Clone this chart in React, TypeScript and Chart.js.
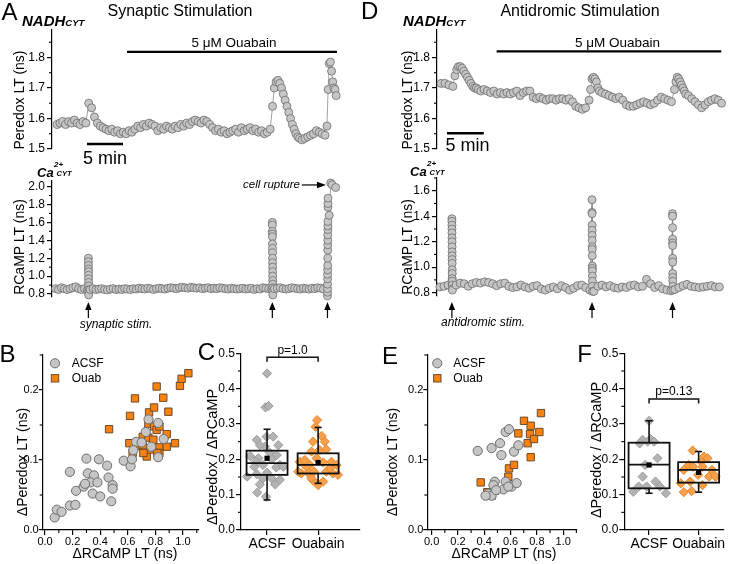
import React, { useEffect, useRef } from "react";
import { Chart, registerables } from "chart.js";

Chart.register(...registerables);

const W = 729;
const H = 564;
const FONT = '"Liberation Sans", Arial, Helvetica, sans-serif';

// ================= Panel A : synaptic stimulation =================
// Peredox lifetime (ns) — sampled segments, timing = [start (min), sample step (min)]
const synPeredoxBase1 = [
  1.58, 1.585, 1.59, 1.58, 1.59, 1.585, 1.595, 1.585, 1.58, 1.59,
  1.585, 1.65, 1.635, 1.605, 1.585, 1.575, 1.57, 1.565, 1.56, 1.565,
  1.555, 1.56, 1.55, 1.555, 1.55, 1.56, 1.555, 1.565, 1.575, 1.57,
  1.58, 1.575, 1.585, 1.58, 1.575, 1.56, 1.57, 1.565, 1.575, 1.57,
  1.565, 1.575, 1.57, 1.58, 1.575, 1.585, 1.58, 1.59, 1.595, 1.59,
  1.585, 1.595, 1.59, 1.58, 1.57, 1.56, 1.565, 1.555, 1.56, 1.55,
  1.555, 1.56, 1.565, 1.555, 1.57, 1.56, 1.565, 1.57, 1.56, 1.565,
  1.555, 1.56, 1.55, 1.555, 1.565,
];
const synPeredoxBurst2 = [1.64, 1.7, 1.72, 1.725, 1.715, 1.7, 1.68, 1.66, 1.64, 1.62, 1.6, 1.58, 1.565, 1.55, 1.54, 1.535];
const synPeredoxBase3 = [1.53, 1.535, 1.54, 1.545, 1.55, 1.56, 1.555, 1.55, 1.545];
const synPeredoxBurst3 = [1.575, 1.695, 1.78, 1.785, 1.755, 1.72, 1.7, 1.695, 1.675];
const synPeredoxTiming: [number, number][] = [[0.7, 0.4], [30.63, 0.25], [34.72, 0.4], [38.19, 0.16]];

// RCaMP lifetime (ns)
const synRcampBase = [
  0.86, 0.85, 0.87, 0.86, 0.85, 0.86, 0.87, 0.88, 0.86, 0.85,
  0.86, 0.84, 0.85, 0.86, 0.85, 0.855, 0.86, 0.85, 0.845, 0.855,
  0.86, 0.85, 0.855, 0.85, 0.86, 0.855, 0.85, 0.86, 0.855, 0.865,
  0.86, 0.855, 0.865, 0.86, 0.85, 0.86, 0.865, 0.86, 0.855, 0.865,
  0.87, 0.865, 0.86, 0.87, 0.875, 0.87, 0.865, 0.875, 0.87, 0.865,
  0.87, 0.86, 0.865, 0.87, 0.86, 0.865, 0.86, 0.87, 0.865, 0.86,
  0.855, 0.865, 0.86, 0.855, 0.86, 0.865, 0.855, 0.86, 0.865, 0.85,
  0.86, 0.855, 0.87, 0.865, 0.86, 0.855, 0.86, 0.865, 0.87, 0.86,
  0.855, 0.86, 0.87, 0.865, 0.86, 0.855, 0.865, 0.86, 0.855, 0.865,
  0.86, 0.87, 0.865, 0.855,
];
const synRcampTiming: [number, number] = [0.5, 0.4];
const synStimTimes = [5.05, 30.6, 38.26];
const synRcampSpike1 = [1.2, 1.16, 1.12, 1.08, 1.05, 1.01, 0.97, 0.93, 0.89, 0.85, 0.82, 0.79];
const synRcampSpike2 = [1.6, 1.57, 1.5, 1.47, 1.44, 1.36, 1.31, 1.26, 1.2, 1.15, 1.1, 1.05, 1.0, 0.95, 0.91, 0.87, 0.83, 0.79];
const synRcampSpike3 = [0.78, 0.82, 0.86, 0.91, 0.97, 1.02, 1.07, 1.12, 1.2, 1.29, 1.35, 1.4, 1.46, 1.52, 1.56, 1.61, 1.77, 1.81, 1.87];
const synRuptureT = [38.5, 38.72, 38.9, 39.4];
const synRuptureV = [1.68, 2.04, 2.02, 1.99];

// ================= Panel D : antidromic stimulation =================
const antiPeredoxSeg1 = [1.715, 1.715, 1.71, 1.705];
const antiPeredoxBurst1 = [1.74, 1.76, 1.77, 1.77, 1.765, 1.755, 1.745, 1.735, 1.725, 1.715, 1.705, 1.7, 1.7, 1.695];
const antiPeredoxSeg2 = [
  1.69, 1.695, 1.69, 1.685, 1.69, 1.68, 1.685, 1.68, 1.685, 1.68,
  1.685, 1.69, 1.675, 1.685, 1.69, 1.69, 1.67, 1.665, 1.67, 1.665,
  1.66, 1.665, 1.665, 1.66, 1.665, 1.665, 1.66, 1.665, 1.655, 1.64,
  1.635, 1.63, 1.635,
];
const antiPeredoxBurst2 = [1.66, 1.695, 1.73, 1.735, 1.73, 1.72, 1.7, 1.69];
const antiPeredoxSeg3 = [
  1.685, 1.68, 1.675, 1.67, 1.665, 1.67, 1.66, 1.645, 1.64, 1.64,
  1.645, 1.65, 1.655, 1.65, 1.645, 1.65, 1.66, 1.67, 1.665, 1.66, 1.655,
];
const antiPeredoxBurst3 = [1.695, 1.72, 1.735, 1.73, 1.72, 1.71, 1.7, 1.69, 1.68];
const antiPeredoxSeg4 = [1.675, 1.665, 1.655, 1.645, 1.635, 1.645, 1.655, 1.66, 1.665, 1.66, 1.65];
const antiPeredoxTiming: [number, number][] = [
  [0.54, 0.54], [2.43, 0.243], [5.94, 0.445], [20.65, 0.2], [22.4, 0.472], [32.25, 0.19], [34.14, 0.45],
];

const antiRcampBase = [
  0.845, 0.85, 0.86, 0.87, 0.86, 0.875, 0.87, 0.85, 0.87, 0.88,
  0.875, 0.885, 0.88, 0.87, 0.855, 0.87, 0.875, 0.85, 0.84, 0.845,
  0.86, 0.845, 0.835, 0.85, 0.855, 0.83, 0.82, 0.835, 0.845, 0.83,
  0.855, 0.84, 0.82, 0.835, 0.855, 0.86, 0.84, 0.82, 0.81, 0.85,
  0.86, 0.845, 0.855, 0.84, 0.835, 0.845, 0.84, 0.855, 0.86, 0.845,
  0.85, 0.905, 0.87, 0.84, 0.855, 0.83, 0.82, 0.815, 0.825, 0.84,
  0.855, 0.865, 0.85, 0.845, 0.84, 0.845, 0.85, 0.855, 0.845, 0.845,
];
const antiRcampTiming: [number, number] = [0.4, 0.55];
const antiStimTimes = [2.02, 21.05, 31.98];
const antiRcampSpike1 = [1.38, 1.36, 1.33, 1.3, 1.27, 1.23, 1.2, 1.16, 1.12, 1.09, 1.06, 1.03, 0.98, 0.95, 0.91, 0.89, 0.86, 0.83, 0.82];
const antiRcampSpike2 = [1.53, 1.43, 1.42, 1.33, 1.29, 1.25, 1.21, 1.16, 1.14, 1.09, 1.01, 0.99, 0.97, 0.93, 0.89, 0.85, 0.81];
const antiRcampSpike3 = [1.42, 1.4, 1.31, 1.22, 1.19, 1.17, 1.07, 1.04, 0.95, 0.92, 0.89, 0.85, 0.82];

// ================= Panel B : scatter (synaptic) =================
const bAcsfX = [0.07, 0.085, 0.12, 0.18, 0.22, 0.18, 0.225, 0.28, 0.3, 0.39, 0.31, 0.355, 0.33, 0.29, 0.38, 0.345, 0.4, 0.45, 0.46, 0.49, 0.48, 0.49, 0.57, 0.62, 0.63, 0.66, 0.75, 0.82, 0.82, 0.77, 0.7, 0.64, 0.73, 0.86];
const bAcsfY = [0.018, 0.029, 0.026, 0.035, 0.036, 0.083, 0.056, 0.062, 0.102, 0.101, 0.081, 0.078, 0.068, 0.066, 0.068, 0.052, 0.048, 0.092, 0.075, 0.064, 0.041, 0.059, 0.099, 0.091, 0.101, 0.126, 0.158, 0.153, 0.104, 0.119, 0.125, 0.114, 0.14, 0.13];
const bOuabX = [0.464, 0.616, 0.652, 0.611, 0.635, 0.664, 0.708, 0.708, 0.737, 0.749, 0.754, 0.749, 0.766, 0.79, 0.79, 0.785, 0.809, 0.809, 0.829, 0.829, 0.857, 0.882, 0.894, 0.882, 0.829, 0.942, 0.978, 0.99, 1.039, 0.713, 0.814];
const bOuabY = [0.144, 0.163, 0.188, 0.124, 0.11, 0.12, 0.133, 0.121, 0.105, 0.152, 0.168, 0.132, 0.115, 0.175, 0.148, 0.129, 0.143, 0.205, 0.118, 0.148, 0.189, 0.137, 0.169, 0.119, 0.11, 0.124, 0.206, 0.216, 0.224, 0.11, 0.11];

// ================= Panel E : scatter (antidromic) =================
const eAcsfX = [0.35, 0.456, 0.52, 0.53, 0.563, 0.588, 0.626, 0.659, 0.48, 0.563, 0.608, 0.646, 0.545, 0.47, 0.43, 0.456, 0.49, 0.583, 0.41];
const eAcsfY = [0.113, 0.117, 0.124, 0.107, 0.14, 0.144, 0.112, 0.121, 0.069, 0.069, 0.062, 0.067, 0.058, 0.064, 0.052, 0.049, 0.057, 0.062, 0.049];
const eOuabX = [0.373, 0.423, 0.456, 0.48, 0.583, 0.588, 0.626, 0.659, 0.702, 0.73, 0.748, 0.753, 0.778, 0.753, 0.819, 0.831];
const eOuabY = [0.068, 0.054, 0.049, 0.056, 0.076, 0.088, 0.093, 0.138, 0.156, 0.124, 0.137, 0.149, 0.13, 0.104, 0.14, 0.167];

// ================= Panel C : ratio box plot (synaptic) =================
const boxCategories = ["ACSF", "Ouabain"];
const cAcsfX = [1.0, 0.97, 1.03, 0.8, 0.99, 1.12, 0.96, 0.86, 1.22, 0.67, 0.83, 0.92, 1.09, 1.19, 1.25, 0.75, 0.61, 0.8, 1.0, 1.18, 1.32, 0.92, 1.09, 0.86, 1.16, 0.81, 0.98, 1.25, 0.78, 1.05];
const cAcsfY = [0.443, 0.347, 0.351, 0.255, 0.264, 0.264, 0.236, 0.24, 0.24, 0.209, 0.203, 0.184, 0.2, 0.212, 0.184, 0.179, 0.151, 0.158, 0.162, 0.177, 0.179, 0.146, 0.146, 0.129, 0.129, 0.106, 0.094, 0.142, 0.194, 0.219];
const cOuabX = [1.98, 1.95, 2.07, 1.9, 2.13, 1.87, 2.03, 2.16, 1.64, 1.74, 1.84, 1.97, 2.1, 2.26, 2.36, 1.67, 1.8, 1.92, 2.16, 2.29, 2.39, 1.9, 2.1, 2.0, 1.77, 2.23, 1.61, 1.87];
const cOuabY = [0.311, 0.292, 0.266, 0.25, 0.25, 0.222, 0.226, 0.228, 0.193, 0.198, 0.184, 0.203, 0.191, 0.193, 0.184, 0.16, 0.162, 0.165, 0.165, 0.16, 0.156, 0.14, 0.137, 0.127, 0.179, 0.175, 0.165, 0.146];
const cBoxLow = [0.156, 0.16];
const cMedian = [0.189, 0.184];
const cBoxHigh = [0.2245, 0.217];
const cWhiskerLow = [0.085, 0.132];
const cWhiskerHigh = [0.285, 0.29];
const cMean = [0.203, 0.191];
const cPValue = "p=1.0";

// ================= Panel F : ratio box plot (antidromic) =================
const fAcsfX = [1.0, 0.87, 1.03, 1.1, 0.81, 0.97, 1.17, 0.92, 0.87, 1.13, 0.95, 0.79, 0.68, 1.22, 1.34];
const fAcsfY = [0.309, 0.255, 0.257, 0.25, 0.245, 0.25, 0.203, 0.184, 0.151, 0.137, 0.123, 0.123, 0.108, 0.123, 0.104];
const fOuabX = [1.88, 2.11, 2.18, 2.05, 1.8, 1.7, 1.89, 2.08, 2.27, 1.99, 2.21, 2.34, 1.64, 1.83, 2.08, 1.86, 1.7];
const fOuabY = [0.225, 0.208, 0.203, 0.193, 0.184, 0.17, 0.179, 0.179, 0.17, 0.156, 0.151, 0.151, 0.132, 0.137, 0.127, 0.11, 0.107];
const fBoxLow = [0.118, 0.134];
const fMedian = [0.185, 0.17];
const fBoxHigh = [0.247, 0.192];
const fWhiskerLow = [0.104, 0.107];
const fWhiskerHigh = [0.309, 0.222];
const fMean = [0.184, 0.163];
const fPValue = "p=0.13";

// ================= helpers =================
type Pt = { x: number; y: number };
type Area = { l: number; r: number; t: number; b: number };
const Y_W = 40;
const X_H = 24;

function segments(timing: [number, number][], vals: number[][]): Pt[] {
  const out: Pt[] = [];
  vals.forEach((arr, k) => {
    const [t0, dt] = timing[k];
    arr.forEach((v, i) => out.push({ x: t0 + i * dt, y: v }));
  });
  return out;
}
function column(t: number, vals: number[]): Pt[] {
  return vals.map((v, i) => ({ x: t + i * 0.004, y: v }));
}
function zip(xs: number[], ys: number[]): Pt[] {
  return xs.map((x, i) => ({ x, y: ys[i] }));
}
function byTime(pts: Pt[]): Pt[] {
  return pts.slice().sort((a, b) => a.x - b.x);
}

function layoutFor(area: Area, hasX: boolean) {
  return {
    padding: {
      left: area.l - Y_W,
      right: W - area.r,
      top: area.t,
      bottom: H - area.b - (hasX ? X_H : 0),
    },
  };
}

function axis(pos: "left" | "bottom", min: number, max: number, step: number, dec: number, size: number, tickLen: number, pad: number, show = true) {
  const isY = pos === "left";
  return {
    type: "linear",
    position: pos,
    min,
    max,
    display: show,
    afterFit: (s: any) => {
      if (isY) s.width = Y_W;
      else s.height = X_H;
    },
    border: { display: true, color: "#000", width: 1.2 },
    grid: { display: true, drawOnChartArea: false, drawTicks: true, tickLength: tickLen, color: "#000", lineWidth: 1.2 },
    ticks: {
      stepSize: step,
      includeBounds: false,
      autoSkip: false,
      maxRotation: 0,
      padding: pad,
      color: "#000",
      font: { family: FONT, size },
      callback: (v: any) => Number(v).toFixed(dec),
    },
  };
}

function minorTicks(spec: { x?: [number, number]; y?: [number, number] }) {
  return {
    id: "minorTicks",
    afterDraw(chart: any) {
      const ctx = chart.ctx;
      const a = chart.chartArea;
      ctx.save();
      ctx.strokeStyle = "#000";
      ctx.lineWidth = 1.1;
      const run = (key: "x" | "y") => {
        const sp = spec[key];
        if (!sp) return;
        const [minor, major] = sp;
        const s = chart.scales[key];
        const k0 = Math.ceil(s.min / minor - 1e-6);
        const k1 = Math.floor(s.max / minor + 1e-6);
        for (let k = k0; k <= k1; k++) {
          const v = k * minor;
          const r = v / major;
          if (Math.abs(r - Math.round(r)) < 1e-6) continue;
          const p = s.getPixelForValue(v);
          ctx.beginPath();
          if (key === "y") {
            ctx.moveTo(a.left - 3, p);
            ctx.lineTo(a.left, p);
          } else {
            ctx.moveTo(p, a.bottom);
            ctx.lineTo(p, a.bottom + 3);
          }
          ctx.stroke();
        }
      };
      run("x");
      run("y");
      ctx.restore();
    },
  };
}

function upArrow(ctx: any, x: number, tip: number, tail: number) {
  ctx.beginPath();
  ctx.moveTo(x, tail);
  ctx.lineTo(x, tip + 6);
  ctx.stroke();
  ctx.beginPath();
  ctx.moveTo(x, tip);
  ctx.lineTo(x - 3.2, tip + 8);
  ctx.lineTo(x + 3.2, tip + 8);
  ctx.closePath();
  ctx.fill();
}

function tracePlugin(o: {
  bar?: [number, number, number];
  scaleBar?: [number, number, number];
  arrows?: { times: number[]; tip: number; tail: number };
  rupture?: [number, number, number];
}) {
  return {
    id: "traceExtras",
    afterDraw(chart: any) {
      const { ctx } = chart;
      const x = chart.scales.x;
      const y = chart.scales.y;
      ctx.save();
      ctx.strokeStyle = "#000";
      ctx.fillStyle = "#000";
      if (o.bar) {
        ctx.lineWidth = 2.2;
        ctx.beginPath();
        ctx.moveTo(x.getPixelForValue(o.bar[0]), y.getPixelForValue(o.bar[2]));
        ctx.lineTo(x.getPixelForValue(o.bar[1]), y.getPixelForValue(o.bar[2]));
        ctx.stroke();
      }
      if (o.scaleBar) {
        ctx.lineWidth = 2.5;
        ctx.beginPath();
        ctx.moveTo(x.getPixelForValue(o.scaleBar[0]), y.getPixelForValue(o.scaleBar[2]));
        ctx.lineTo(x.getPixelForValue(o.scaleBar[1]), y.getPixelForValue(o.scaleBar[2]));
        ctx.stroke();
      }
      if (o.arrows) {
        ctx.lineWidth = 1.2;
        const tip = y.getPixelForValue(o.arrows.tip);
        const tail = y.getPixelForValue(o.arrows.tail);
        o.arrows.times.forEach((t) => upArrow(ctx, x.getPixelForValue(t), tip, tail));
      }
      if (o.rupture) {
        const x0 = x.getPixelForValue(o.rupture[0]);
        const x1 = x.getPixelForValue(o.rupture[1]);
        const yy = y.getPixelForValue(o.rupture[2]);
        ctx.lineWidth = 1.2;
        ctx.beginPath();
        ctx.moveTo(x0, yy);
        ctx.lineTo(x1 - 6, yy);
        ctx.stroke();
        ctx.beginPath();
        ctx.moveTo(x1, yy);
        ctx.lineTo(x1 - 9, yy - 3.2);
        ctx.lineTo(x1 - 9, yy + 3.2);
        ctx.closePath();
        ctx.fill();
      }
      ctx.restore();
    },
  };
}

function legendPlugin(dx: number, dyA: number, dyB: number, textDx: number) {
  return {
    id: "legendMarks",
    afterDraw(chart: any) {
      const { ctx, chartArea: a } = chart;
      ctx.save();
      const cx = a.left + dx;
      ctx.fillStyle = CIRCLE_FILL;
      ctx.strokeStyle = CIRCLE_EDGE;
      ctx.lineWidth = 1;
      ctx.beginPath();
      ctx.arc(cx, a.top + dyA, 4.6, 0, Math.PI * 2);
      ctx.fill();
      ctx.stroke();
      ctx.fillStyle = SQUARE_FILL;
      ctx.strokeStyle = SQUARE_EDGE;
      ctx.fillRect(cx - 3.7, a.top + dyB - 3.7, 7.4, 7.4);
      ctx.strokeRect(cx - 3.7, a.top + dyB - 3.7, 7.4, 7.4);
      ctx.fillStyle = "#000";
      ctx.font = `12px ${FONT}`;
      ctx.textBaseline = "middle";
      ctx.textAlign = "left";
      ctx.fillText("ACSF", a.left + textDx, a.top + dyA);
      ctx.fillText("Ouab", a.left + textDx, a.top + dyB);
      ctx.restore();
    },
  };
}

function boxPlugin(low: number[], med: number[], high: number[], wlo: number[], whi: number[], mean: number[], pText: string, pY: number) {
  return {
    id: "boxes",
    afterDraw(chart: any) {
      const { ctx } = chart;
      const x = chart.scales.x;
      const y = chart.scales.y;
      ctx.save();
      ctx.strokeStyle = "#111";
      const line = (x0: number, y0: number, x1: number, y1: number) => {
        ctx.beginPath();
        ctx.moveTo(x0, y0);
        ctx.lineTo(x1, y1);
        ctx.stroke();
      };
      low.forEach((_, i) => {
        const cx = x.getPixelForValue(i + 1);
        const hw = 20.5;
        const cap = 3.5;
        const yl = y.getPixelForValue(low[i]);
        const yh = y.getPixelForValue(high[i]);
        const ym = y.getPixelForValue(med[i]);
        const ywl = y.getPixelForValue(wlo[i]);
        const ywh = y.getPixelForValue(whi[i]);
        ctx.lineWidth = 1.8;
        ctx.strokeRect(cx - hw, yh, 2 * hw, yl - yh);
        line(cx - hw, ym, cx + hw, ym);
        ctx.lineWidth = 1.6;
        line(cx, yh, cx, ywh);
        line(cx, yl, cx, ywl);
        line(cx - cap, ywh, cx + cap, ywh);
        line(cx - cap, ywl, cx + cap, ywl);
        ctx.fillStyle = "#000";
        const my = y.getPixelForValue(mean[i]);
        ctx.fillRect(cx - 2.6, my - 2.6, 5.2, 5.2);
      });
      const x1 = x.getPixelForValue(1);
      const x2 = x.getPixelForValue(2);
      const yb = y.getPixelForValue(pY);
      ctx.lineWidth = 1.5;
      ctx.beginPath();
      ctx.moveTo(x1, yb + 4.5);
      ctx.lineTo(x1, yb);
      ctx.lineTo(x2, yb);
      ctx.lineTo(x2, yb + 4.5);
      ctx.stroke();
      ctx.fillStyle = "#000";
      ctx.font = `12px ${FONT}`;
      ctx.textAlign = "center";
      ctx.textBaseline = "alphabetic";
      ctx.fillText(pText, (x1 + x2) / 2, yb - 3.5);
      ctx.restore();
    },
  };
}

const CIRCLE_FILL = "#c6c6c6";
const CIRCLE_EDGE = "#6c6c6c";
const SQUARE_FILL = "#f7820f";
const SQUARE_EDGE = "#6e4a2a";

const traceStyle = {
  showLine: true,
  borderColor: "#8a8a8a",
  borderWidth: 0.8,
  pointRadius: 4,
  pointBackgroundColor: CIRCLE_FILL,
  pointBorderColor: CIRCLE_EDGE,
  pointBorderWidth: 0.8,
  clip: false,
};

const baseOptions = {
  responsive: false,
  animation: false,
  devicePixelRatio: 1,
  events: [],
  plugins: { legend: { display: false }, tooltip: { enabled: false } },
};

function traceChart(area: Area, data: Pt[], xMax: number, yMin: number, yMax: number, yStep: number, yMinor: number, extra: any) {
  return {
    type: "scatter",
    data: { datasets: [{ data, ...traceStyle }] },
    options: {
      ...baseOptions,
      layout: layoutFor(area, false),
      scales: {
        x: { type: "linear", min: 0, max: xMax, display: false },
        y: axis("left", yMin, yMax, yStep, 1, 12, 5, 2),
      },
    },
    plugins: [minorTicks({ y: [yMinor, yStep] }), extra],
  };
}

function scatterChart(area: Area, xMin: number, xMax: number, acsf: Pt[], ouab: Pt[], legend: any) {
  return {
    type: "scatter",
    data: {
      datasets: [
        { data: acsf, pointStyle: "circle", pointRadius: 4.6, pointBackgroundColor: CIRCLE_FILL, pointBorderColor: CIRCLE_EDGE, pointBorderWidth: 1, clip: false },
        { data: ouab, pointStyle: "rect", pointRadius: 5.2, pointBackgroundColor: SQUARE_FILL, pointBorderColor: SQUARE_EDGE, pointBorderWidth: 1, clip: false },
      ],
    },
    options: {
      ...baseOptions,
      layout: layoutFor(area, true),
      scales: {
        x: axis("bottom", xMin, xMax, 0.2, 1, 11, 5, 0),
        y: axis("left", 0, 0.25, 0.1, 1, 11, 4, 0),
      },
    },
    plugins: [minorTicks({ x: [0.1, 0.2], y: [0.05, 0.1] }), legend],
  };
}

function boxChart(area: Area, xMin: number, xMax: number, acsf: Pt[], ouab: Pt[], box: any) {
  const xAx: any = axis("bottom", xMin, xMax, 1, 0, 14, 5, 1);
  xAx.afterBuildTicks = (s: any) => {
    s.ticks = [{ value: 1 }, { value: 2 }];
  };
  xAx.ticks.callback = (v: any) => boxCategories[Math.round(Number(v)) - 1];
  return {
    type: "scatter",
    data: {
      datasets: [
        { data: acsf, pointStyle: "rectRot", pointRadius: 4.6, pointBackgroundColor: "#b3b3b3", pointBorderColor: "#9c9c9c", pointBorderWidth: 1, clip: false },
        { data: ouab, pointStyle: "rectRot", pointRadius: 4.6, pointBackgroundColor: "#f6a04c", pointBorderColor: "#e3882e", pointBorderWidth: 1, clip: false },
      ],
    },
    options: {
      ...baseOptions,
      layout: layoutFor(area, true),
      scales: {
        x: xAx,
        y: axis("left", 0, 0.5, 0.1, 1, 12, 5, 1),
      },
    },
    plugins: [minorTicks({ y: [0.05, 0.1] }), box],
  };
}

function buildConfigs(): any[] {
  const synPeredox = segments(synPeredoxTiming, [synPeredoxBase1, synPeredoxBurst2, synPeredoxBase3, synPeredoxBurst3]);
  const synRcamp = byTime([
    ...segments([synRcampTiming], [synRcampBase]),
    ...column(synStimTimes[0], synRcampSpike1),
    ...column(synStimTimes[1], synRcampSpike2),
    ...column(synStimTimes[2], synRcampSpike3),
    ...zip(synRuptureT, synRuptureV),
  ]);
  const antiPeredox = segments(antiPeredoxTiming, [
    antiPeredoxSeg1, antiPeredoxBurst1, antiPeredoxSeg2, antiPeredoxBurst2, antiPeredoxSeg3, antiPeredoxBurst3, antiPeredoxSeg4,
  ]);
  const antiRcamp = byTime([
    ...segments([antiRcampTiming], [antiRcampBase]),
    ...column(antiStimTimes[0], antiRcampSpike1),
    ...column(antiStimTimes[1], antiRcampSpike2),
    ...column(antiStimTimes[2], antiRcampSpike3),
  ]);

  return [
    traceChart({ l: 52, r: 340, t: 30, b: 149 }, synPeredox, 40, 1.5, 1.89, 0.1, 0.05,
      tracePlugin({ bar: [10.42, 39.58, 1.818], scaleBar: [4.86, 9.86, 1.516] })),
    traceChart({ l: 52, r: 340, t: 180.3, b: 296.7 }, synRcamp, 40, 0.77, 2.07, 0.2, 0.1,
      tracePlugin({ arrows: { times: synStimTimes, tip: 0.711, tail: 0.532 }, rupture: [34.7, 38.05, 2.018] })),
    traceChart({ l: 437, r: 726, t: 30, b: 149 }, antiPeredox, 39, 1.5, 1.89, 0.1, 0.05,
      tracePlugin({ bar: [8.1, 38.6, 1.82], scaleBar: [1.35, 6.35, 1.552] })),
    traceChart({ l: 437, r: 726, t: 178, b: 295.2 }, antiRcamp, 39, 0.78, 1.7, 0.2, 0.1,
      tracePlugin({ arrows: { times: antiStimTimes, tip: 0.727, tail: 0.601 } })),
    scatterChart({ l: 42.7, r: 199, t: 355, b: 530 }, -0.017, 1.116, zip(bAcsfX, bAcsfY), zip(bOuabX, bOuabY),
      legendPlugin(12.3, 8.3, 23.3, 29)),
    boxChart({ l: 241, r: 360, t: 353.3, b: 530 }, 0.49, 2.82, zip(cAcsfX, cAcsfY), zip(cOuabX, cOuabY),
      boxPlugin(cBoxLow, cMedian, cBoxHigh, cWhiskerLow, cWhiskerHigh, cMean, cPValue, 0.489)),
    scatterChart({ l: 427.3, r: 577, t: 355, b: 530 }, -0.033, 1.105, zip(eAcsfX, eAcsfY), zip(eOuabX, eOuabY),
      legendPlugin(10, 8.3, 23.3, 26)),
    boxChart({ l: 624.3, r: 728, t: 353.3, b: 530 }, 0.5, 2.5, zip(fAcsfX, fAcsfY), zip(fOuabX, fOuabY),
      boxPlugin(fBoxLow, fMedian, fBoxHigh, fWhiskerLow, fWhiskerHigh, fMean, fPValue, 0.371)),
  ];
}

function T(props: any) {
  const { x, y, s, children, anchor = "middle", rot = false, it = false, b = false } = props;
  const tx = anchor === "middle" ? "-50%" : anchor === "end" ? "-100%" : "0";
  return (
    <div
      style={{
        position: "absolute",
        left: x,
        top: y,
        transform: `translate(${tx},-50%)${rot ? " rotate(-90deg)" : ""}`,
        fontSize: s,
        lineHeight: 1,
        whiteSpace: "nowrap",
        fontWeight: b ? 700 : 400,
        fontStyle: it ? "italic" : "normal",
      }}
    >
      {children}
    </div>
  );
}

function Nadh({ x }: { x: number }) {
  return (
    <T x={x} y={19.6} s={15} anchor="start" b it>
      NADH<span style={{ fontSize: 9.5 }}>CYT</span>
    </T>
  );
}

function Ca({ x, base }: { x: number; base: number }) {
  return (
    <>
      <T x={x} y={base - 4.7} s={13} anchor="start" b it>Ca</T>
      <T x={x + 17} y={base - 11.8} s={8} anchor="start" b it>2+</T>
      <T x={x + 19.5} y={base - 2.7} s={7.5} anchor="start" b it>CYT</T>
    </>
  );
}

export default function App() {
  const refs = useRef<(HTMLCanvasElement | null)[]>([]);
  useEffect(() => {
    const cfgs = buildConfigs();
    const charts = cfgs.map((cfg, i) => new Chart(refs.current[i] as HTMLCanvasElement, cfg));
    return () => charts.forEach((c) => c.destroy());
  }, []);

  return (
    <div style={{ position: "absolute", left: 0, top: 0, width: W, height: H, background: "#fff", overflow: "hidden", fontFamily: FONT, color: "#000" }}>
      {Array.from({ length: 8 }).map((_, i) => (
        <canvas
          key={i}
          ref={(el) => {
            refs.current[i] = el;
          }}
          width={W}
          height={H}
          style={{ position: "absolute", left: 0, top: 0, width: W, height: H }}
        />
      ))}

      {/* Panel A */}
      <T x={9.5} y={11.5} s={24}>A</T>
      <Nadh x={22} />
      <T x={180} y={10.5} s={16}>Synaptic Stimulation</T>
      <T x={234} y={43} s={13.5}>5 μM Ouabain</T>
      <T x={19} y={100} s={14} rot>Peredox LT (ns)</T>
      <T x={105} y={157.5} s={18}>5 min</T>
      <Ca x={37} base={177} />
      <T x={19} y={247} s={14} rot>RCaMP LT (ns)</T>
      <T x={300} y={185} s={11.5} anchor="end" it>cell rupture</T>
      <T x={116} y={324} s={12} it>synaptic stim.</T>

      {/* Panel D */}
      <T x={369.7} y={11.3} s={24}>D</T>
      <Nadh x={403} />
      <T x={580} y={10.5} s={16}>Antidromic Stimulation</T>
      <T x={617.5} y={43} s={13.5}>5 μM Ouabain</T>
      <T x={407} y={100} s={14} rot>Peredox LT (ns)</T>
      <T x={467.5} y={144.5} s={18}>5 min</T>
      <Ca x={410} base={176} />
      <T x={407} y={247} s={14} rot>RCaMP LT (ns)</T>
      <T x={483} y={322} s={12} it>antidromic stim.</T>

      {/* Panel B */}
      <T x={7.5} y={353.5} s={24}>B</T>
      <T x={22} y={462} s={14} rot>ΔPeredox LT (ns)</T>
      <T x={125} y={553} s={14}>ΔRCaMP LT (ns)</T>

      {/* Panel C */}
      <T x={206.5} y={352} s={24}>C</T>
      <T x={212} y={457} s={14.5} rot>ΔPeredox / ΔRCaMP</T>

      {/* Panel E */}
      <T x={390} y={355.5} s={24}>E</T>
      <T x={392} y={462} s={14} rot>ΔPeredox LT (ns)</T>
      <T x={504} y={553} s={14}>ΔRCaMP LT (ns)</T>

      {/* Panel F */}
      <T x={584.5} y={353.5} s={24}>F</T>
      <T x={596} y={450} s={14.5} rot>ΔPeredox / ΔRCaMP</T>
    </div>
  );
}
